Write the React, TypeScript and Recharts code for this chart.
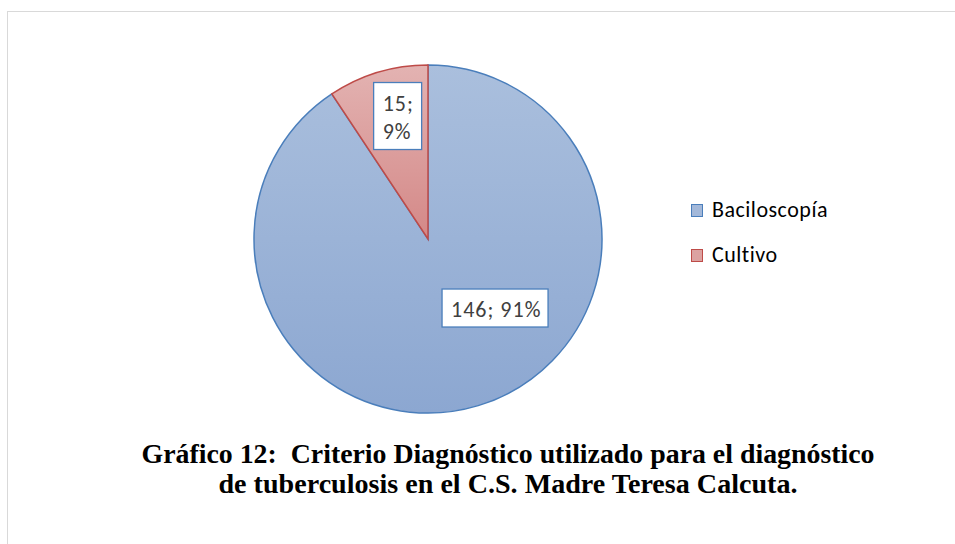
import React from 'react';
import { PieChart, Pie, Cell, Legend } from 'recharts';

const categories = ['Baciloscopía', 'Cultivo'];
const values = [146, 15];
const titleLines = [
  'Gráfico 12:  Criterio Diagnóstico utilizado para el diagnóstico',
  'de tuberculosis en el C.S. Madre Teresa Calcuta.',
];

const data = categories.map((name, i) => ({ name, value: values[i] }));

const GRADS = [
  { id: 'gradBlue', top: '#AABFDD', bottom: '#8CA7D1' },
  { id: 'gradRed', top: '#E3B3B2', bottom: '#D48887' },
];
const STROKES = ['#4A7EBB', '#BE4B48'];
const LEGEND_FILL = ['#A3B8D9', '#DCA2A1'];
const LABEL_PLACEMENT = [
  { rf: 0.553, da: 27.4, w: 106, h: 38 },
  { rf: 0.728, da: -2.9, w: 48, h: 67 },
];
const TITLE_WIDTHS = [733, 579];
const RAD = Math.PI / 180;
const LABEL_FONT = 'Carlito, Lato, "Open Sans", sans-serif';

function renderLabel(props: any) {
  const { cx, cy, midAngle, outerRadius, percent, value, index } = props;
  const p = LABEL_PLACEMENT[index];
  const a = (midAngle + p.da) * RAD;
  const r = outerRadius * p.rf;
  const x = cx + r * Math.cos(a);
  const y = cy - r * Math.sin(a);
  const pct = Math.round(percent * 100) + '%';
  const lines = index === 1 ? [`${value};`, pct] : [`${value}; ${pct}`];
  const left = x - p.w / 2;
  const top = y - p.h / 2;
  return (
    <g key={`lbl-${index}`}>
      <rect x={left} y={top} width={p.w} height={p.h} fill="#FFFFFF" stroke="#4A7EBB" strokeWidth={1.3} />
      {lines.map((t, i) => (
        <text
          key={i}
          x={left + 9}
          y={lines.length === 1 ? top + 27.5 : top + 28.5 + i * 28.3}
          fill="#404040"
          fontSize={22}
          letterSpacing={1}
          fontFamily={LABEL_FONT}
          textAnchor="start"
        >
          {t}
        </text>
      ))}
    </g>
  );
}

function LegendContent() {
  return (
    <div style={{ fontFamily: LABEL_FONT, fontSize: 22, letterSpacing: 0.5, color: '#000' }}>
      {categories.map((c, i) => (
        <div key={c} style={{ display: 'flex', alignItems: 'center', height: 26, marginBottom: 19 }}>
          <div
            style={{
              width: 10,
              height: 11,
              background: LEGEND_FILL[i],
              border: `1.3px solid ${STROKES[i]}`,
              marginRight: 9,
              marginTop: 1,
            }}
          />
          <span style={{ lineHeight: '26px' }}>{c}</span>
        </div>
      ))}
    </div>
  );
}

export default function App() {
  return (
    <div style={{ position: 'absolute', left: 0, top: 0, width: 955, height: 544, background: '#FFFFFF' }}>
      <div
        style={{
          position: 'absolute',
          left: 7,
          top: 11,
          width: 948,
          height: 533,
          borderTop: '1.5px solid #D9D9D9',
          borderLeft: '1.5px solid #D9D9D9',
          boxSizing: 'border-box',
        }}
      />
      <svg width={0} height={0} style={{ position: 'absolute' }}>
        <defs>
          {GRADS.map((g) => (
            <linearGradient key={g.id} id={g.id} x1="0" y1="0" x2="0" y2="1">
              <stop offset="0%" stopColor={g.top} />
              <stop offset="100%" stopColor={g.bottom} />
            </linearGradient>
          ))}
        </defs>
      </svg>
      <div style={{ position: 'absolute', left: 0, top: 0 }}>
        <PieChart width={955} height={544} margin={{ top: 0, right: 0, bottom: 0, left: 0 }}>
          <Pie
            data={data}
            dataKey="value"
            nameKey="name"
            cx={428}
            cy={239}
            outerRadius={174}
            startAngle={90}
            endAngle={-270}
            isAnimationActive={false}
            labelLine={false}
            label={renderLabel}
          >
            {data.map((d, i) => (
              <Cell key={d.name} fill={`url(#${GRADS[i].id})`} stroke={STROKES[i]} strokeWidth={1.5} />
            ))}
          </Pie>
          <Legend
            content={<LegendContent />}
            wrapperStyle={{ position: 'absolute', left: 691, top: 197, width: 220 }}
          />
        </PieChart>
      </div>
      <svg width={955} height={544} style={{ position: 'absolute', left: 0, top: 0, pointerEvents: 'none' }}>
        {titleLines.map((t, i) => (
          <text
            key={i}
            x={508}
            y={463 + i * 29.5}
            textAnchor="middle"
            fontFamily='"Liberation Serif", "Times New Roman", serif'
            fontWeight="bold"
            fontSize={27}
            fill="#000"
            textLength={TITLE_WIDTHS[i]}
            lengthAdjust="spacingAndGlyphs"
            style={{ whiteSpace: 'pre' }}
          >
            {t}
          </text>
        ))}
      </svg>
    </div>
  );
}
